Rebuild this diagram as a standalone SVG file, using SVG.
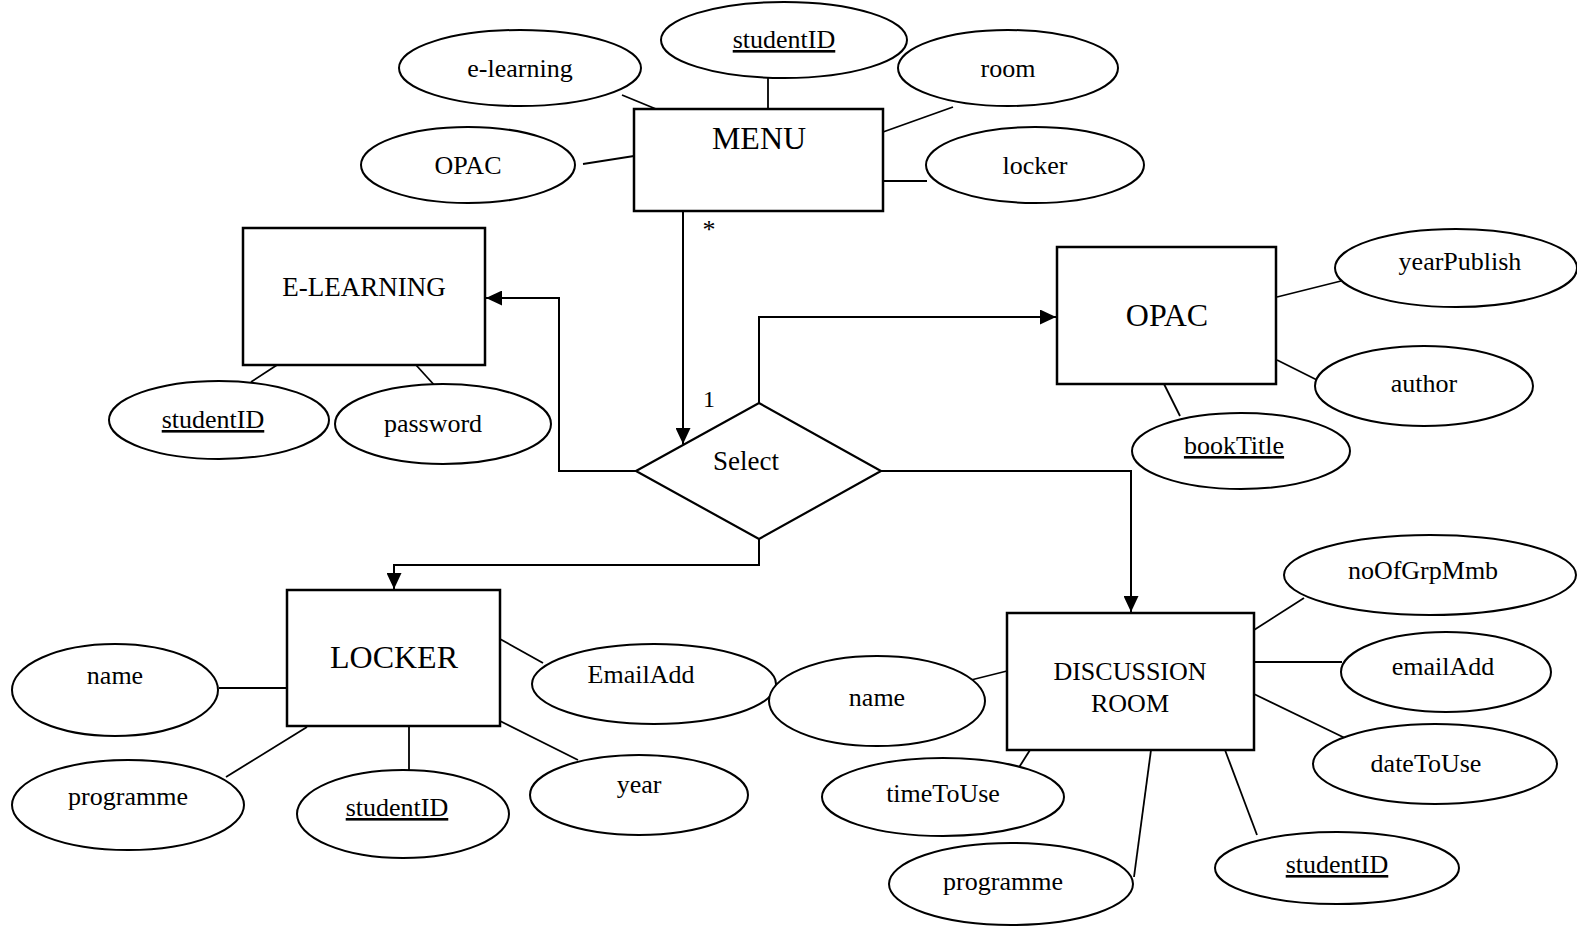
<svg xmlns="http://www.w3.org/2000/svg" width="1577" height="927" viewBox="0 0 1577 927">
  <style>
    .ent { fill: #fff; stroke: #000; stroke-width: 2.5; }
    .att { fill: #fff; stroke: #000; stroke-width: 2; }
    .rel { fill: #fff; stroke: #000; stroke-width: 2.2; }
    .ln { fill: none; stroke: #000; stroke-width: 1.8; }
    .cn { fill: none; stroke: #000; stroke-width: 2; }
    text { font-family: "Liberation Serif", "Times New Roman", serif; fill: #000; text-anchor: middle; }
    .t { font-size: 26px; }
    .tb { font-size: 32px; }
    .tm { font-size: 27px; }
    .key { text-decoration: underline; }
  </style>
  <defs>
    <marker id="arrow" markerUnits="userSpaceOnUse" markerWidth="17" markerHeight="15" refX="16" refY="7.5" orient="auto">
      <path d="M0,0 L16,7.5 L0,15 z" fill="#000"/>
    </marker>
  </defs>

  <!-- attribute links and relationship connectors -->
  <g id="connectors">
    <!-- MENU attributes -->
    <line class="ln" x1="622" y1="95" x2="656" y2="109"/>
    <line class="ln" x1="768" y1="78" x2="768" y2="109"/>
    <line class="ln" x1="953" y1="107" x2="883" y2="132"/>
    <line class="ln" x1="583" y1="164" x2="634" y2="156"/>
    <line class="ln" x1="883" y1="181" x2="927" y2="181"/>
    <!-- E-LEARNING attributes -->
    <line class="ln" x1="277" y1="365" x2="251" y2="382"/>
    <line class="ln" x1="416" y1="365" x2="436" y2="387"/>
    <!-- OPAC attributes -->
    <line class="ln" x1="1277" y1="297" x2="1341" y2="281"/>
    <line class="ln" x1="1277" y1="360" x2="1317" y2="380"/>
    <line class="ln" x1="1164" y1="384" x2="1180" y2="416"/>
    <!-- LOCKER attributes -->
    <line class="ln" x1="219" y1="688" x2="287" y2="688"/>
    <line class="ln" x1="226" y1="777" x2="307" y2="727"/>
    <line class="ln" x1="409" y1="726" x2="409" y2="774"/>
    <line class="ln" x1="500" y1="639" x2="543" y2="663"/>
    <line class="ln" x1="500" y1="721" x2="578" y2="760"/>
    <!-- DISCUSSION ROOM attributes -->
    <line class="ln" x1="967" y1="681" x2="1007" y2="671"/>
    <line class="ln" x1="1018" y1="769" x2="1030" y2="750"/>
    <line class="ln" x1="1134" y1="877" x2="1151" y2="750"/>
    <line class="ln" x1="1257" y1="835" x2="1225" y2="750"/>
    <line class="ln" x1="1254" y1="630" x2="1304" y2="598"/>
    <line class="ln" x1="1254" y1="662" x2="1342" y2="662"/>
    <line class="ln" x1="1254" y1="694" x2="1347" y2="739"/>

    <!-- relationship connectors -->
    <polyline class="cn" points="683,211 683,444" marker-end="url(#arrow)"/>
    <polyline class="cn" points="636,471 559,471 559,298 486,298" marker-end="url(#arrow)"/>
    <polyline class="cn" points="759,403 759,317 1056,317" marker-end="url(#arrow)"/>
    <polyline class="cn" points="881,471 1131,471 1131,612" marker-end="url(#arrow)"/>
    <polyline class="cn" points="759,539 759,565 394,565 394,589" marker-end="url(#arrow)"/>

    <!-- cardinality -->
    <text x="709" y="238" style="font-size:26px">*</text>
    <text x="709" y="407" style="font-size:24px">1</text>
  </g>

  <!-- MENU -->
  <g id="menu">
    <rect class="ent" x="634" y="109" width="249" height="102"/>
    <text class="tb" x="759" y="149">MENU</text>
  </g>
  <g id="menu-elearning">
    <ellipse class="att" cx="520" cy="68" rx="121" ry="38"/>
    <text class="t" x="520" y="77">e-learning</text>
  </g>
  <g id="menu-studentid">
    <ellipse class="att" cx="784" cy="40" rx="123" ry="38"/>
    <text class="t key" x="784" y="48">studentID</text>
  </g>
  <g id="menu-room">
    <ellipse class="att" cx="1008" cy="68" rx="110" ry="38"/>
    <text class="t" x="1008" y="77">room</text>
  </g>
  <g id="menu-opac">
    <ellipse class="att" cx="468" cy="165" rx="107" ry="38"/>
    <text class="t" x="468" y="174">OPAC</text>
  </g>
  <g id="menu-locker">
    <ellipse class="att" cx="1035" cy="165" rx="109" ry="38"/>
    <text class="t" x="1035" y="174">locker</text>
  </g>

  <!-- E-LEARNING -->
  <g id="elearning">
    <rect class="ent" x="243" y="228" width="242" height="137"/>
    <text class="tm" x="364" y="296">E-LEARNING</text>
  </g>
  <g id="elearning-studentid">
    <ellipse class="att" cx="219" cy="420" rx="110" ry="39"/>
    <text class="t key" x="213" y="428">studentID</text>
  </g>
  <g id="elearning-password">
    <ellipse class="att" cx="443" cy="424" rx="108" ry="40"/>
    <text class="t" x="433" y="432">password</text>
  </g>

  <!-- Select relationship -->
  <g id="select">
    <polygon class="rel" points="636,471 759,403 881,471 759,539"/>
    <text class="tm" x="746" y="470">Select</text>
  </g>

  <!-- OPAC -->
  <g id="opac">
    <rect class="ent" x="1057" y="247" width="219" height="137"/>
    <text class="tb" x="1167" y="326">OPAC</text>
  </g>
  <g id="opac-yearpublish">
    <ellipse class="att" cx="1456" cy="268" rx="121" ry="39"/>
    <text class="t" x="1460" y="270">yearPublish</text>
  </g>
  <g id="opac-author">
    <ellipse class="att" cx="1424" cy="386" rx="109" ry="40"/>
    <text class="t" x="1424" y="392">author</text>
  </g>
  <g id="opac-booktitle">
    <ellipse class="att" cx="1241" cy="451" rx="109" ry="38"/>
    <text class="t key" x="1234" y="454">bookTitle</text>
  </g>

  <!-- LOCKER -->
  <g id="locker">
    <rect class="ent" x="287" y="590" width="213" height="136"/>
    <text class="tb" x="394" y="668">LOCKER</text>
  </g>
  <g id="locker-name">
    <ellipse class="att" cx="115" cy="690" rx="103" ry="46"/>
    <text class="t" x="115" y="684">name</text>
  </g>
  <g id="locker-programme">
    <ellipse class="att" cx="128" cy="805" rx="116" ry="45"/>
    <text class="t" x="128" y="805">programme</text>
  </g>
  <g id="locker-studentid">
    <ellipse class="att" cx="403" cy="814" rx="106" ry="44"/>
    <text class="t key" x="397" y="816">studentID</text>
  </g>
  <g id="locker-emailadd">
    <ellipse class="att" cx="654" cy="684" rx="122" ry="40"/>
    <text class="t" x="641" y="683">EmailAdd</text>
  </g>
  <g id="locker-year">
    <ellipse class="att" cx="639" cy="795" rx="109" ry="40"/>
    <text class="t" x="639" y="793">year</text>
  </g>

  <!-- DISCUSSION ROOM -->
  <g id="discussion-room">
    <rect class="ent" x="1007" y="613" width="247" height="137"/>
    <text class="t" x="1130" y="680">DISCUSSION</text>
    <text class="t" x="1130" y="712">ROOM</text>
  </g>
  <g id="dr-name">
    <ellipse class="att" cx="877" cy="701" rx="108" ry="45"/>
    <text class="t" x="877" y="706">name</text>
  </g>
  <g id="dr-timetouse">
    <ellipse class="att" cx="943" cy="797" rx="121" ry="39"/>
    <text class="t" x="943" y="802">timeToUse</text>
  </g>
  <g id="dr-programme">
    <ellipse class="att" cx="1011" cy="884" rx="122" ry="41"/>
    <text class="t" x="1003" y="890">programme</text>
  </g>
  <g id="dr-studentid">
    <ellipse class="att" cx="1337" cy="868" rx="122" ry="36"/>
    <text class="t key" x="1337" y="873">studentID</text>
  </g>
  <g id="dr-noofgrpmmb">
    <ellipse class="att" cx="1430" cy="575" rx="146" ry="40"/>
    <text class="t" x="1423" y="579">noOfGrpMmb</text>
  </g>
  <g id="dr-emailadd">
    <ellipse class="att" cx="1446" cy="672" rx="105" ry="40"/>
    <text class="t" x="1443" y="675">emailAdd</text>
  </g>
  <g id="dr-datetouse">
    <ellipse class="att" cx="1435" cy="764" rx="122" ry="40"/>
    <text class="t" x="1426" y="772">dateToUse</text>
  </g>
</svg>
